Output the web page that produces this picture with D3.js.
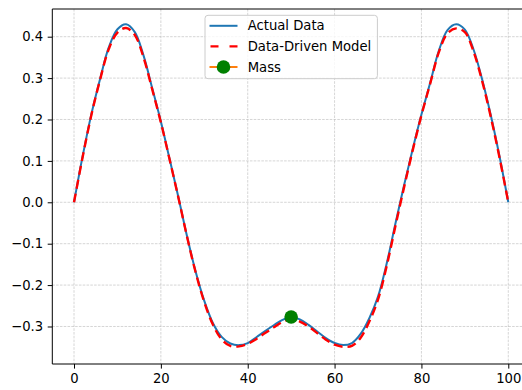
<!DOCTYPE html>
<html>
<head>
<meta charset="utf-8">
<script src="https://cdn.jsdelivr.net/npm/d3@7"></script>
<style>
  html, body { margin: 0; padding: 0; background: #fff; overflow: hidden; }
  svg { display: block; }
  text { font-family: "DejaVu Sans", sans-serif; }
</style>
</head>
<body>
<svg id="chart" width="522" height="390"></svg>
<script>
// ---- data ----
const xs = [0,2,4,6,8,10,12,14,16,18,20,22,24,26,28,30,32,34,36,38,40,42,44,46,48,50,
            52,54,56,58,60,62,64,66,68,70,72,74,76,78,80,82,84,86,88,90,92,94,96,98,100];
const actualData = [0,0.112,0.213,0.298,0.374,0.418,0.430,0.411,0.355,0.276,0.195,0.105,0.014,-0.081,-0.167,-0.238,-0.292,-0.325,-0.341,-0.345,-0.340,-0.326,-0.311,-0.297,-0.284,-0.277,
            -0.283,-0.296,-0.312,-0.328,-0.340,-0.345,-0.340,-0.318,-0.280,-0.228,-0.148,-0.052,0.041,0.129,0.212,0.288,0.366,0.416,0.430,0.417,0.369,0.296,0.209,0.110,0];
const modelData = [0,0.110,0.211,0.296,0.370,0.410,0.421,0.404,0.350,0.273,0.193,0.104,0.013,-0.082,-0.169,-0.241,-0.296,-0.331,-0.347,-0.348,-0.342,-0.330,-0.316,-0.302,-0.289,-0.283,
            -0.288,-0.300,-0.316,-0.332,-0.344,-0.349,-0.347,-0.327,-0.288,-0.235,-0.154,-0.058,0.036,0.126,0.210,0.286,0.362,0.408,0.420,0.411,0.364,0.292,0.205,0.107,0];
const massX = [50];
const massY = [-0.277];
const xTicks = [0,20,40,60,80,100];
const yTicks = [-0.3,-0.2,-0.1,0.0,0.1,0.2,0.3,0.4];
const legendLabels = ["Actual Data","Data-Driven Model","Mass"];

// ---- layout ----
const svg = d3.select("#chart");
const L = 52.3, R = 530, T = 9, B = 364;
const x = d3.scaleLinear().domain([-5, 105]).range([L, R]);
const y = d3.scaleLinear().domain([-0.3906, 0.4669]).range([B, T]);

svg.append("defs").append("clipPath").attr("id","clip")
  .append("rect").attr("x",L).attr("y",T).attr("width",R-L).attr("height",B-T);

// grid
const grid = svg.append("g");
grid.selectAll(".gx").data(xTicks).enter().append("line")
  .attr("x1",d=>x(d)).attr("x2",d=>x(d)).attr("y1",T).attr("y2",B)
  .attr("stroke","#b0b0b0").attr("stroke-opacity",0.75).attr("stroke-width",0.7).attr("stroke-dasharray","2.6,1.2");
grid.selectAll(".gy").data(yTicks).enter().append("line")
  .attr("y1",d=>y(d)).attr("y2",d=>y(d)).attr("x1",L).attr("x2",R)
  .attr("stroke","#b0b0b0").attr("stroke-opacity",0.75).attr("stroke-width",0.7).attr("stroke-dasharray","2.6,1.2");

// lines
const pts = (ys) => xs.map((v,i)=>[v, ys[i]]);
const line = d3.line().x(d=>x(d[0])).y(d=>y(d[1])).curve(d3.curveCatmullRom.alpha(0.5));
const plot = svg.append("g").attr("clip-path","url(#clip)");
plot.append("path").datum(pts(actualData)).attr("d",line)
  .attr("fill","none").attr("stroke","#1f77b4").attr("stroke-width",2).attr("stroke-linejoin","round").attr("stroke-linecap","butt");
plot.append("path").datum(pts(modelData)).attr("d",line)
  .attr("fill","none").attr("stroke","#ff0000").attr("stroke-width",2.4).attr("stroke-dasharray","9,5");
plot.selectAll(".mass").data(massX.map((v,i)=>[v,massY[i]])).enter().append("circle")
  .attr("cx",d=>x(d[0])).attr("cy",d=>y(d[1])).attr("r",6.8).attr("fill","#008000");

// axes
const xAxis = d3.axisBottom(x).tickValues(xTicks).tickSize(4.6).tickPadding(4.6).tickFormat(d3.format("d"));
const yAxis = d3.axisLeft(y).tickValues(yTicks).tickSize(4.6).tickPadding(4.6)
  .tickFormat(d => d3.format(".1f")(d).replace("-", "\u2212"));
const gx = svg.append("g").attr("transform",`translate(0,${B})`).call(xAxis);
const gy = svg.append("g").attr("transform",`translate(${L},0)`).call(yAxis);
[gx, gy].forEach(g => {
  g.select(".domain").remove();
  g.selectAll(".tick line").attr("stroke","#000").attr("stroke-width",1);
  g.selectAll(".tick text").attr("fill","#000").style("font-size","13.2px").style("font-family","DejaVu Sans");
});
// spines (right spine lies outside the picture)
svg.append("line").attr("x1",L).attr("x2",L).attr("y1",T).attr("y2",B).attr("stroke","#000").attr("stroke-width",1);
svg.append("line").attr("x1",L).attr("x2",R).attr("y1",B).attr("y2",B).attr("stroke","#000").attr("stroke-width",1);
svg.append("line").attr("x1",L).attr("x2",R).attr("y1",T).attr("y2",T).attr("stroke","#000").attr("stroke-width",1);

// legend
const lg = svg.append("g");
lg.append("rect").attr("x",205).attr("y",15.3).attr("width",172.4).attr("height",63.4).attr("rx",3)
  .attr("fill","#fff").attr("fill-opacity",0.8).attr("stroke","#cccccc").attr("stroke-width",1);
const rowY = [25.8, 46.4, 67.0];
const hx0 = 209.5, hx1 = 237.5;
lg.append("line").attr("x1",hx0).attr("x2",hx1).attr("y1",rowY[0]).attr("y2",rowY[0]).attr("stroke","#1f77b4").attr("stroke-width",2);
lg.append("line").attr("x1",hx0).attr("x2",hx1).attr("y1",rowY[1]).attr("y2",rowY[1]).attr("stroke","#ff0000").attr("stroke-width",2.4).attr("stroke-dasharray","8,11").attr("stroke-dashoffset",-1);
lg.append("line").attr("x1",hx0).attr("x2",hx1).attr("y1",rowY[2]).attr("y2",rowY[2]).attr("stroke","#ff7f0e").attr("stroke-width",2);
lg.append("circle").attr("cx",(hx0+hx1)/2).attr("cy",rowY[2]).attr("r",6.8).attr("fill","#008000");
lg.selectAll(".lt").data(legendLabels).enter().append("text")
  .attr("x",247.7).attr("y",(d,i)=>rowY[i]).attr("dy","0.35em")
  .attr("fill","#000").style("font-size","13.2px").text(d=>d);
</script>
</body>
</html>
